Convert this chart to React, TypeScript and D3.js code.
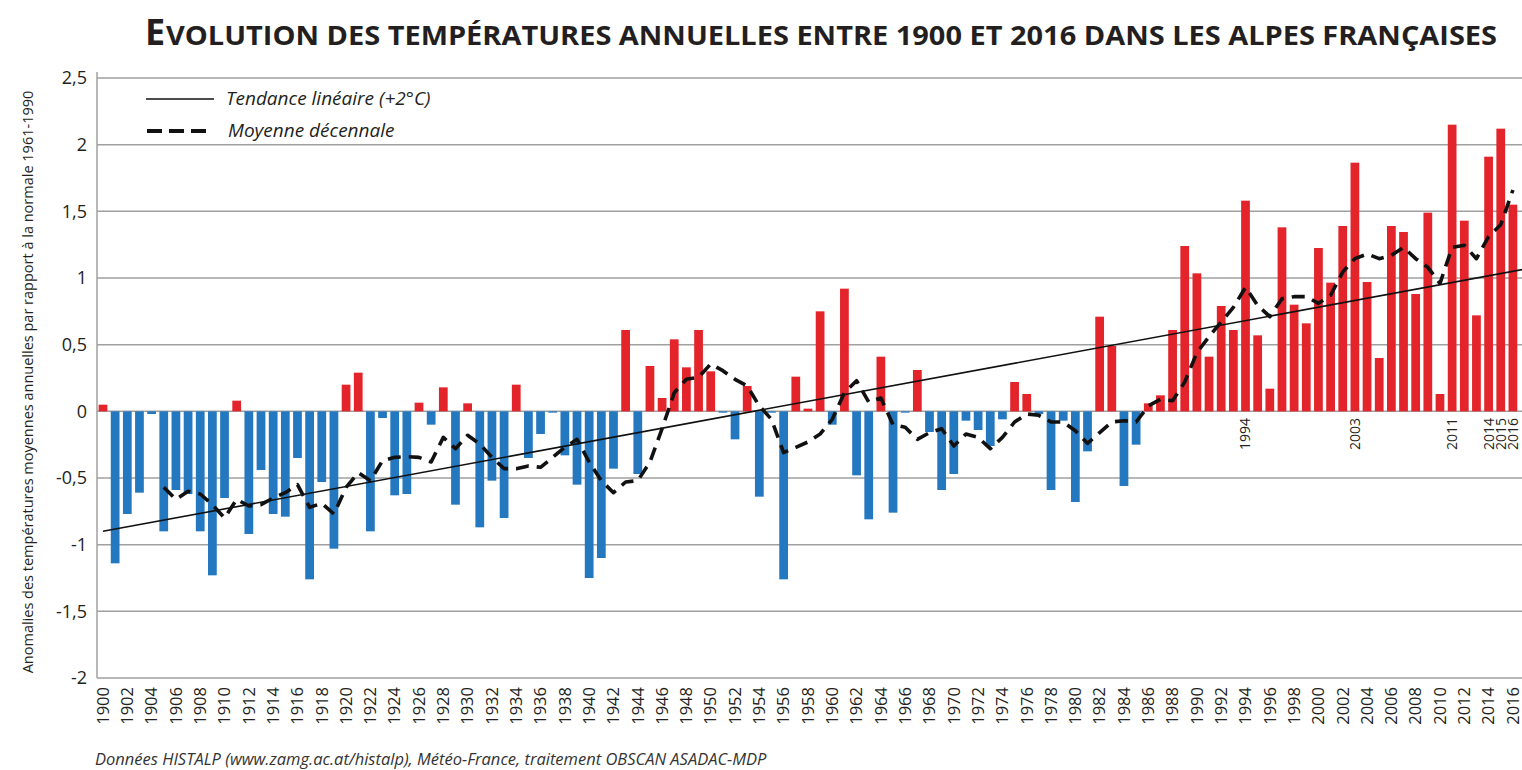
import React from "react";
import * as d3 from "d3";

// ---------- DATA ----------
const startYear = 1900;
// annual temperature anomalies vs 1961-1990 normal (°C), 1900..2016
const anomalies = [
  0.05, -1.14, -0.77, -0.61, -0.02, -0.9, -0.59, -0.62, -0.9, -1.23,
  -0.65, 0.08, -0.92, -0.44, -0.77, -0.79, -0.35, -1.26, -0.53, -1.03,
  0.2, 0.29, -0.9, -0.05, -0.63, -0.62, 0.065, -0.1, 0.18, -0.7,
  0.06, -0.87, -0.52, -0.8, 0.2, -0.35, -0.17, -0.01, -0.33, -0.55,
  -1.25, -1.1, -0.43, 0.61, -0.47, 0.34, 0.1, 0.54, 0.33, 0.61,
  0.3, -0.01, -0.21, 0.19, -0.64, -0.01, -1.26, 0.26, 0.02, 0.75,
  -0.1, 0.92, -0.48, -0.81, 0.41, -0.76, -0.01, 0.31, -0.155, -0.59,
  -0.47, -0.07, -0.14, -0.26, -0.06, 0.22, 0.13, -0.02, -0.59, -0.07,
  -0.68, -0.3, 0.71, 0.49, -0.56, -0.25, 0.06, 0.12, 0.61, 1.24,
  1.035, 0.41, 0.79, 0.61, 1.58, 0.57, 0.17, 1.38, 0.8, 0.66,
  1.225, 0.965, 1.39, 1.865, 0.97, 0.4, 1.39, 1.345, 0.88, 1.49,
  0.13, 2.15, 1.43, 0.72, 1.91, 2.12, 1.55,
];

// ten-year running mean, 1905..2016
const decadalStart = 1905;
const decadalMean = [
  -0.57, -0.66, -0.6, -0.62, -0.7, -0.8, -0.66, -0.71, -0.7, -0.65,
  -0.61, -0.55, -0.72, -0.69, -0.77, -0.57, -0.46, -0.52, -0.37, -0.345,
  -0.34, -0.345, -0.38, -0.195, -0.28, -0.18, -0.245, -0.345, -0.43, -0.43,
  -0.41, -0.42, -0.345, -0.27, -0.21, -0.38, -0.52, -0.61, -0.53, -0.52,
  -0.38, -0.13, 0.14, 0.24, 0.255, 0.355, 0.305, 0.24, 0.19, 0.04,
  -0.06, -0.31, -0.27, -0.23, -0.17, -0.06, 0.14, 0.23, 0.07, 0.1,
  -0.1, -0.12, -0.21, -0.16, -0.13, -0.26, -0.17, -0.195, -0.28, -0.195,
  -0.08, -0.02, -0.03, -0.08, -0.08, -0.145, -0.24, -0.16, -0.08, -0.07,
  -0.08, 0.04, 0.09, 0.08, 0.22, 0.44, 0.56, 0.67, 0.78, 0.93,
  0.795, 0.71, 0.845, 0.86, 0.86, 0.81, 0.87, 1.045, 1.145, 1.18,
  1.145, 1.17, 1.23, 1.145, 1.08, 0.96, 1.23, 1.245, 1.145, 1.31,
  1.4, 1.66,
];

const trendYears = [1900, 2016];
const trendValues = [-0.9, 1.05];

const yTicks = [-2, -1.5, -1, -0.5, 0, 0.5, 1, 1.5, 2, 2.5];
const highlightYears = [1994, 2003, 2011, 2014, 2015, 2016];

const titleFirst = "E";
const titleRest = "VOLUTION DES TEMPÉRATURES ANNUELLES ENTRE 1900 ET 2016 DANS LES ALPES FRANÇAISES";
const yTitle = "Anomalies des températures moyennes annuelles par rapport à la normale 1961-1990";
const legendTrend = "Tendance linéaire (+2°C)";
const legendMean = "Moyenne décennale";
const sourceText = "Données HISTALP (www.zamg.ac.at/histalp), Météo-France, traitement OBSCAN ASADAC-MDP";

// ---------- LAYOUT ----------
const W = 1522;
const H = 770;
const FONT = "'Open Sans', 'Noto Sans', sans-serif";
const RED = "#e3242b";
const BLUE = "#2478c0";
const GRID = "#a0a0a0";

export default function App() {
  const years = anomalies.map((_, i) => startYear + i);
  const x = d3
    .scaleBand<number>()
    .domain(years)
    .range([97.4, 1518.5])
    .paddingInner(0.28)
    .paddingOuter(0.1);
  const y = d3.scaleLinear().domain([-2, 2.5]).range([678, 78]);
  const cx = (yr: number) => (x(yr) as number) + x.bandwidth() / 2;
  const fmt = (v: number) => String(v).replace(".", ",");

  const meanPts = decadalMean.map((v, i) => [cx(decadalStart + i), y(v)] as [number, number]);
  const meanPath = d3.line()(meanPts) || "";
  const slopePerPx =
    (trendValues[1] - trendValues[0]) / (cx(trendYears[1]) - cx(trendYears[0]));
  const trendPath =
    d3.line()([
      [cx(trendYears[0]), y(trendValues[0])],
      [W + 10, y(trendValues[1] + slopePerPx * (W + 10 - cx(trendYears[1])))],
    ]) || "";

  const evenYears = years.filter((yr) => yr % 2 === 0);

  return (
    <svg
      width={W}
      height={H}
      style={{ position: "absolute", left: 0, top: 0, background: "#fff" }}
      fontFamily={FONT}
    >
      <rect x={0} y={0} width={W} height={H} fill="#fff" />
      {/* Title */}
      <text x={145} y={45} fontSize={36} fontWeight={700} fill="#231f20">
        {titleFirst}
      </text>
      <text
        x={166}
        y={45}
        fontSize={26.5}
        fontWeight={700}
        fill="#231f20"
        textLength={1331}
        lengthAdjust="spacingAndGlyphs"
      >
        {titleRest}
      </text>

      {/* Grid */}
      {yTicks.map((t) => (
        <line key={t} x1={97} x2={W} y1={y(t)} y2={y(t)} stroke={GRID} strokeWidth={1.5} />
      ))}
      <line x1={97} x2={97} y1={72} y2={678} stroke={GRID} strokeWidth={1.5} />

      {/* Y tick labels */}
      {yTicks.map((t) => (
        <text
          key={t}
          x={87}
          y={y(t)}
          dy="0.35em"
          textAnchor="end"
          fontSize={18}
          fill="#231f20"
        >
          {fmt(t)}
        </text>
      ))}

      {/* Y title */}
      <text
        transform={`translate(33,${382}) rotate(-90)`}
        textAnchor="middle"
        fontSize={14.5}
        fill="#231f20"
      >
        {yTitle}
      </text>

      {/* Bars */}
      {years.map((yr, i) => {
        const v = anomalies[i];
        const y0 = y(0);
        const y1 = y(v);
        return (
          <rect
            key={yr}
            x={x(yr)}
            width={x.bandwidth()}
            y={Math.min(y0, y1)}
            height={Math.abs(y1 - y0)}
            fill={v >= 0 ? RED : BLUE}
          />
        );
      })}

      {/* Trend line */}
      <path d={trendPath} fill="none" stroke="#111" strokeWidth={1.6} />

      {/* Decadal mean */}
      <path
        d={meanPath}
        fill="none"
        stroke="#111"
        strokeWidth={3.6}
        strokeDasharray="13 8"
        strokeLinejoin="round"
      />

      {/* Highlight year labels in plot */}
      {highlightYears.map((yr) => (
        <text
          key={yr}
          transform={`translate(${cx(yr)},418) rotate(-90)`}
          textAnchor="end"
          dy="0.35em"
          fontSize={14}
          fill="#231f20"
        >
          {yr}
        </text>
      ))}

      {/* X tick labels */}
      {evenYears.map((yr) => (
        <text
          key={yr}
          transform={`translate(${cx(yr)},687) rotate(-90)`}
          textAnchor="end"
          dy="0.35em"
          fontSize={16.5}
          fill="#231f20"
        >
          {yr}
        </text>
      ))}

      {/* Legend */}
      <line x1={146} x2={214} y1={99} y2={99} stroke="#111" strokeWidth={1.6} />
      <text x={226} y={105} fontSize={19} fontStyle="italic" fill="#231f20">
        {legendTrend}
      </text>
      <line
        x1={147}
        x2={212}
        y1={131}
        y2={131}
        stroke="#111"
        strokeWidth={4}
        strokeDasharray="15 7"
      />
      <text x={228} y={137} fontSize={19} fontStyle="italic" fill="#231f20">
        {legendMean}
      </text>

      {/* Source */}
      <text x={95} y={765} fontSize={16.5} fontStyle="italic" fill="#333">
        {sourceText}
      </text>
    </svg>
  );
}
